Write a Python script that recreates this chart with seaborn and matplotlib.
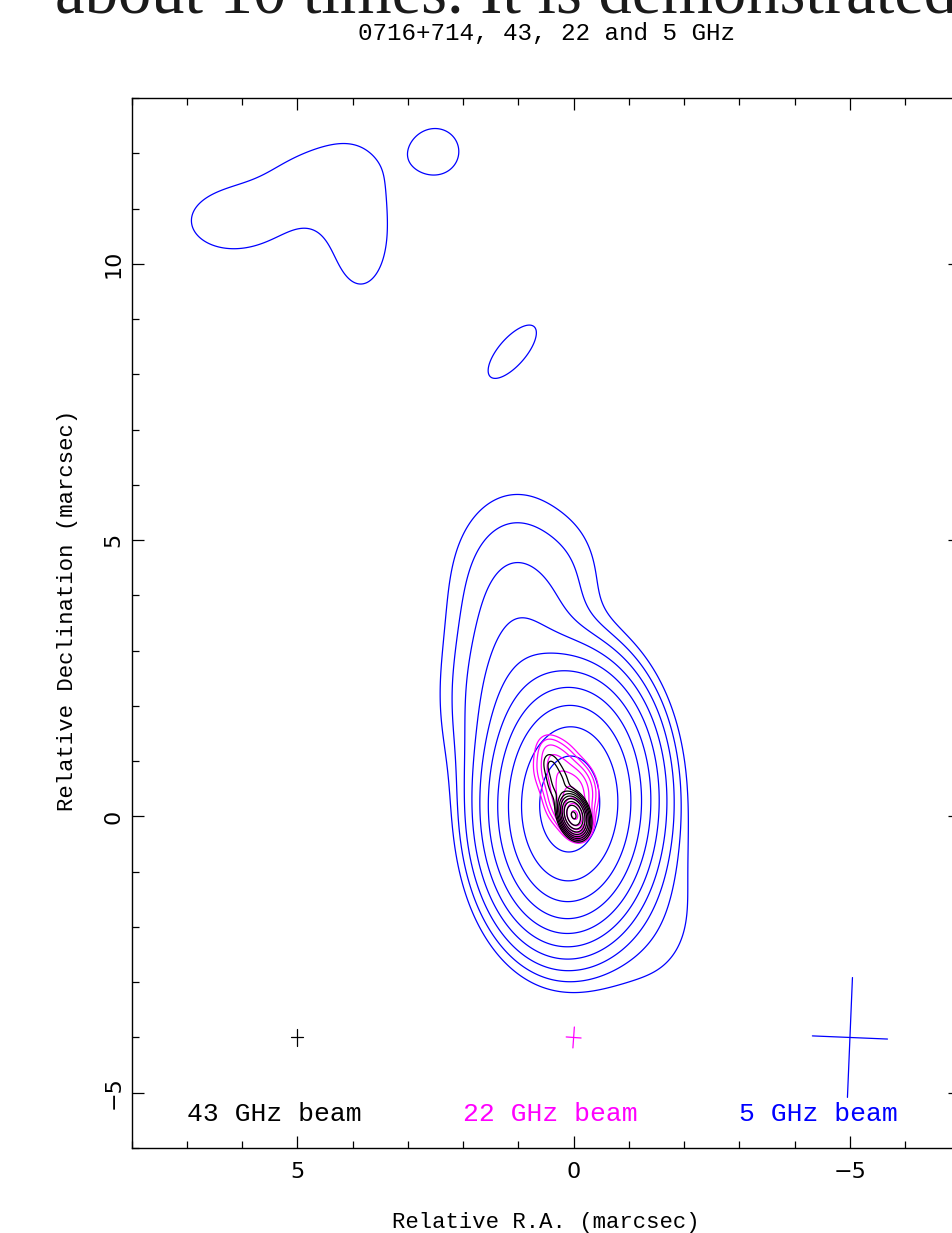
import numpy as np
import seaborn as sns
import matplotlib.pyplot as plt
from matplotlib.ticker import MultipleLocator

# ---------------------------------------------------------------
# restored-map components (image plane), RA/Dec offsets in mas,
# peak normalised to the core, FWHM in mas, PA in deg (N through E)
# ---------------------------------------------------------------

# 5 GHz (blue): core, jet to the north, SW bump, faint patches
c5_x    = [0.07, 0.80, 1.00, 1.00, 0.00, -1.30, 6.30, 4.95, 3.85, 2.48, 1.11]
c5_y    = [0.22, 1.90, 3.20, 4.45, 4.40, -1.80, 10.78, 11.40, 10.50, 12.03, 8.41]
c5_peak = [1.0, 0.015, 0.0052, 0.0028, 0.0008, 0.0018, 0.0017, 0.0017, 0.0018, 0.0020, 0.0019]
c5_maj  = [2.17, 2.24, 2.36, 2.36, 1.60, 2.60, 1.50, 2.40, 2.40, 0.97, 1.56]
c5_min  = [1.36, 1.65, 1.40, 1.80, 1.00, 1.90, 1.05, 1.45, 1.25, 0.97, 0.64]
c5_pa   = [-2, 5, 5, 0, 0, 0, 90, -62, 0, 0, -41]
levels_5 = [0.00126, 0.00252, 0.00504, 0.0101, 0.0202, 0.0403, 0.0806, 0.161, 0.323, 0.645]

# 22 GHz (magenta)
c22_x    = [-0.02, 0.05, 0.30, 0.45]
c22_y    = [0.02, 0.40, 0.85, 1.20]
c22_peak = [1.0, 0.12, 0.04, 0.008]
c22_maj  = [0.36, 0.60, 0.60, 0.40]
c22_min  = [0.24, 0.45, 0.45, 0.30]
c22_pa   = [15, 0, 10, 15]
levels_22 = [0.0036, 0.0072, 0.0144, 0.0288, 0.0575, 0.115, 0.23, 0.46, 0.91]

# 43 GHz (black)
c43_x    = [0.0, 0.28, 0.42]
c43_y    = [0.02, 0.60, 0.95]
c43_peak = [1.0, 0.010, 0.005]
c43_maj  = [0.35, 0.60, 0.35]
c43_min  = [0.22, 0.30, 0.22]
c43_pa   = [17, 15, 15]
levels_43 = [0.0036, 0.0072, 0.0144, 0.0288, 0.0575, 0.115, 0.23, 0.46, 0.91]

# restoring beams
beam_name = ['43 GHz beam', '22 GHz beam', '5 GHz beam']
beam_x    = [5.0, 0.0, -5.0]
beam_y    = [-4.0, -4.0, -4.0]
beam_maj  = [0.30, 0.38, 2.17]
beam_min  = [0.22, 0.27, 1.36]
beam_pa   = [0, -4, -2.4]
label_x   = [7.0, 2.0, -3.0]
label_y   = -5.52

blue, magenta = '#0000ff', '#ff00ff'
beam_col = ['black', magenta, blue]


def model_map(X, Y, xs, ys, peaks, majs, mins, pas):
    img = np.zeros_like(X)
    for x0, y0, p, a, b, pa in zip(xs, ys, peaks, majs, mins, pas):
        t = np.deg2rad(pa)
        dx, dy = X - x0, Y - y0
        u = dx * np.sin(t) + dy * np.cos(t)
        v = dx * np.cos(t) - dy * np.sin(t)
        img += p * np.exp(-4 * np.log(2) * ((u / a) ** 2 + (v / b) ** 2))
    return img


sns.set_theme(style='ticks')
plt.rcParams['font.family'] = ['DejaVu Sans']
lab_font = 'Liberation Mono'

fig = plt.figure(figsize=(9.52, 12.33), dpi=100)
ax = fig.add_axes([131 / 952, 85 / 1233, 830 / 952, 1050 / 1233])

gx, gy = np.meshgrid(np.arange(-7.0, 8.001, 0.02), np.arange(-6.0, 13.001, 0.02))
ax.contour(gx, gy, model_map(gx, gy, c5_x, c5_y, c5_peak, c5_maj, c5_min, c5_pa),
           levels=levels_5, colors=blue, linewidths=0.9)

hx, hy = np.meshgrid(np.arange(-1.0, 1.5, 0.004), np.arange(-1.0, 2.0, 0.004))
ax.contour(hx, hy, model_map(hx, hy, c22_x, c22_y, c22_peak, c22_maj, c22_min, c22_pa),
           levels=levels_22, colors=magenta, linewidths=0.9)
ax.contour(hx, hy, model_map(hx, hy, c43_x, c43_y, c43_peak, c43_maj, c43_min, c43_pa),
           levels=levels_43, colors='black', linewidths=0.9)

# beam crosses + labels
for i in range(3):
    t = np.deg2rad(beam_pa[i])
    a, b = beam_maj[i] / 2, beam_min[i] / 2
    ax.plot([beam_x[i] - a * np.sin(t), beam_x[i] + a * np.sin(t)],
            [beam_y[i] - a * np.cos(t), beam_y[i] + a * np.cos(t)], color=beam_col[i], lw=0.9)
    ax.plot([beam_x[i] - b * np.cos(t), beam_x[i] + b * np.cos(t)],
            [beam_y[i] + b * np.sin(t), beam_y[i] - b * np.sin(t)], color=beam_col[i], lw=0.9)
    ax.text(label_x[i], label_y, beam_name[i], color=beam_col[i], family=lab_font,
            fontsize=19, ha='left', va='baseline')

ax.set_xlim(8, -7)
ax.set_ylim(-6, 13)
ax.set_aspect('equal')
ax.set_xticks([5, 0, -5])
ax.set_yticks([-5, 0, 5, 10])
ax.xaxis.set_minor_locator(MultipleLocator(1))
ax.yaxis.set_minor_locator(MultipleLocator(1))
ax.tick_params(which='both', direction='in', top=True, right=True, color='black', width=0.9)
ax.tick_params(which='major', length=8.5, labelsize=16, labelcolor='black')
ax.tick_params(which='minor', length=4.8)
ax.tick_params(axis='x', pad=10)
ax.tick_params(axis='y', pad=6)
plt.setp(ax.get_yticklabels(), rotation=90, va='center')
for s in ax.spines.values():
    s.set_color('black')
    s.set_linewidth(1.0)

# text
fig.text(55 / 952, 1 - 13 / 1233, 'about 10 times. It is demonstrated', family='Liberation Serif',
         fontsize=48, color='#1a1a1a', ha='left', va='baseline')
fig.text(546 / 952, 1 - 40 / 1233, '0716+714, 43, 22 and 5 GHz', family=lab_font,
         fontsize=17.5, ha='center', va='baseline', color='black')
fig.text(546 / 952, 1 - 1228 / 1233, 'Relative R.A. (marcsec)', family=lab_font,
         fontsize=16, ha='center', va='baseline', color='black')
fig.text(68 / 952, 623 / 1233, 'Relative Declination (marcsec)', family=lab_font,
         fontsize=16, rotation=90, ha='center', va='center', color='black')

fig.savefig('out.png', dpi=100)
